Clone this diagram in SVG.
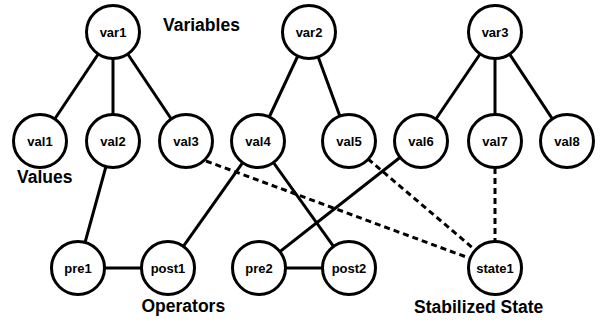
<svg xmlns="http://www.w3.org/2000/svg" width="603" height="322" viewBox="0 0 603 322">
<style>
.e{stroke:#000;stroke-width:3;fill:none}
.d{stroke:#000;stroke-width:3;fill:none;stroke-dasharray:6,4}
.n circle{fill:#fff;stroke:#000;stroke-width:3}
.n text{font-family:"Liberation Sans",Arial,sans-serif;font-weight:bold;font-size:13px;text-anchor:middle;fill:#000}
.lbl{font-family:"Liberation Sans",Arial,sans-serif;font-weight:bold;font-size:17.5px;fill:#000}
</style>
<rect width="603" height="322" fill="#fff"/>
<g id="connectors">
<line class="e" x1="113" y1="32" x2="40" y2="141"/>
<line class="e" x1="113" y1="32" x2="113" y2="141"/>
<line class="e" x1="113" y1="32" x2="186" y2="141"/>
<line class="e" x1="309" y1="32" x2="258" y2="141"/>
<line class="e" x1="309" y1="32" x2="349" y2="141"/>
<line class="e" x1="495" y1="32" x2="421" y2="141"/>
<line class="e" x1="495" y1="32" x2="495" y2="141"/>
<line class="e" x1="495" y1="32" x2="567" y2="141"/>
<line class="e" x1="113" y1="141" x2="78" y2="268"/>
<line class="e" x1="78" y1="268" x2="168" y2="268"/>
<line class="e" x1="258" y1="141" x2="168" y2="268"/>
<line class="e" x1="258" y1="141" x2="349" y2="268"/>
<line class="e" x1="259" y1="268" x2="349" y2="268"/>
<line class="e" x1="421" y1="141" x2="259" y2="268"/>
<line class="d" x1="206" y1="161" x2="469" y2="258"/>
<line class="d" x1="368" y1="159" x2="474" y2="249"/>
<line class="d" x1="495" y1="168" x2="495" y2="241"/>
</g>
<g id="var1" class="n"><circle cx="113" cy="32" r="26.5"/><text x="113" y="36.5">var1</text></g>
<g id="var2" class="n"><circle cx="309" cy="32" r="26.5"/><text x="309" y="36.5">var2</text></g>
<g id="var3" class="n"><circle cx="495" cy="32" r="26.5"/><text x="495" y="36.5">var3</text></g>
<g id="val1" class="n"><circle cx="40" cy="141" r="26.5"/><text x="40" y="145.5">val1</text></g>
<g id="val2" class="n"><circle cx="113" cy="141" r="26.5"/><text x="113" y="145.5">val2</text></g>
<g id="val3" class="n"><circle cx="186" cy="141" r="26.5"/><text x="186" y="145.5">val3</text></g>
<g id="val4" class="n"><circle cx="258" cy="141" r="26.5"/><text x="258" y="145.5">val4</text></g>
<g id="val5" class="n"><circle cx="349" cy="141" r="26.5"/><text x="349" y="145.5">val5</text></g>
<g id="val6" class="n"><circle cx="421" cy="141" r="26.5"/><text x="421" y="145.5">val6</text></g>
<g id="val7" class="n"><circle cx="495" cy="141" r="26.5"/><text x="495" y="145.5">val7</text></g>
<g id="val8" class="n"><circle cx="567" cy="141" r="26.5"/><text x="567" y="145.5">val8</text></g>
<g id="pre1" class="n"><circle cx="78" cy="268" r="26.5"/><text x="78" y="272.5">pre1</text></g>
<g id="post1" class="n"><circle cx="168" cy="268" r="26.5"/><text x="168" y="272.5">post1</text></g>
<g id="pre2" class="n"><circle cx="259" cy="268" r="26.5"/><text x="259" y="272.5">pre2</text></g>
<g id="post2" class="n"><circle cx="349" cy="268" r="26.5"/><text x="349" y="272.5">post2</text></g>
<g id="state1" class="n"><circle cx="495" cy="268" r="26.5"/><text x="495" y="272.5">state1</text></g>
<g id="labels">
<text class="lbl" x="163" y="31">Variables</text>
<text class="lbl" x="17" y="183">Values</text>
<text class="lbl" x="141.5" y="312">Operators</text>
<text class="lbl" x="414" y="313">Stabilized State</text>
</g>
</svg>
